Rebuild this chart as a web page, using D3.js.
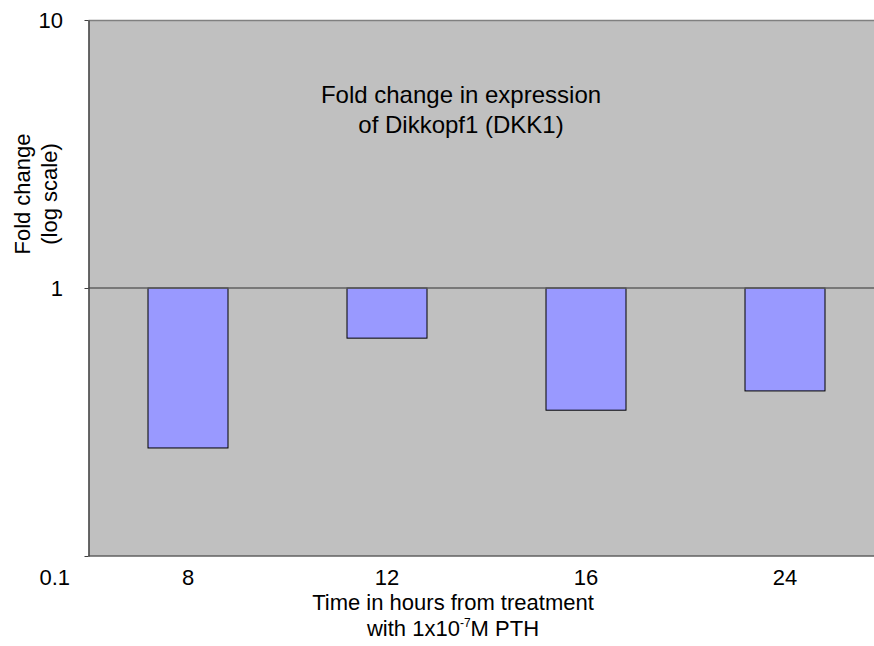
<!DOCTYPE html>
<html>
<head>
<meta charset="utf-8">
<script src="https://cdn.jsdelivr.net/npm/d3@7"></script>
<style>
  html, body { margin: 0; padding: 0; background: #ffffff; }
  svg { display: block; font-family: Arial, "Liberation Sans", sans-serif; }
</style>
</head>
<body>
<svg id="chart" width="874" height="646"></svg>
<script>
// Time points (hours after PTH treatment)
const categories = ["8", "12", "16", "24"];
// DKK1 fold change relative to control
const foldChange = [0.253, 0.65, 0.35, 0.413];
// Log-axis ticks
const yTicks = [0.1, 1, 10];
const yTickLabels = ["0.1", "1", "10"];
const titleLines = ["Fold change in expression", "of Dikkopf1 (DKK1)"];
const yTitleLines = ["Fold change", "(log scale)"];

const svg = d3.select("#chart");
const plotLeft = 88.5, plotRight = 884.5, plotTop = 20, plotBottom = 556;

const x = d3.scaleBand().domain(categories).range([plotLeft, plotRight]);
const y = d3.scaleLog().domain([0.1, 10]).range([plotBottom, plotTop]);
const barW = x.bandwidth() * 0.402;

// plot area
svg.append("rect")
  .attr("x", plotLeft).attr("y", plotTop)
  .attr("width", plotRight - plotLeft).attr("height", plotBottom - plotTop)
  .attr("fill", "#c0c0c0");

// top border
svg.append("line")
  .attr("x1", plotLeft).attr("x2", plotRight)
  .attr("y1", plotTop + 0.5).attr("y2", plotTop + 0.5)
  .attr("stroke", "#808080").attr("stroke-width", 1.5);

// bars hang from the value-1 baseline
svg.append("g").selectAll("rect")
  .data(categories)
  .join("rect")
  .attr("x", d => x(d) + (x.bandwidth() - barW) / 2)
  .attr("y", y(1))
  .attr("width", barW)
  .attr("height", (d, i) => y(foldChange[i]) - y(1))
  .attr("fill", "#9999ff")
  .attr("stroke", "#000000")
  .attr("stroke-width", 1);

// category axis crossing at 1
svg.append("line")
  .attr("x1", plotLeft).attr("x2", plotRight)
  .attr("y1", y(1)).attr("y2", y(1))
  .attr("stroke", "#606060").attr("stroke-width", 1.5);

// bottom edge
svg.append("line")
  .attr("x1", plotLeft).attr("x2", plotRight)
  .attr("y1", plotBottom).attr("y2", plotBottom)
  .attr("stroke", "#606060").attr("stroke-width", 1.5);

// value axis
const yAxis = d3.axisLeft(y)
  .tickValues(yTicks)
  .tickFormat(d => "")
  .tickSizeInner(4).tickSizeOuter(0);
const gy = svg.append("g").attr("transform", `translate(${plotLeft},0)`).call(yAxis);
gy.select(".domain").attr("stroke", "#404040").attr("stroke-width", 1.5);
gy.selectAll(".tick line").attr("stroke", "#404040");

// value labels
svg.append("g").selectAll("text")
  .data(yTicks)
  .join("text")
  .attr("x", (d, i) => i === 0 ? 70 : 63)
  .attr("y", (d, i) => i === 0 ? 577 : y(d))
  .attr("dy", "0.35em")
  .attr("text-anchor", "end")
  .attr("font-size", 22)
  .attr("fill", "#000")
  .text((d, i) => yTickLabels[i]);

// category labels
svg.append("g").selectAll("text")
  .data(categories)
  .join("text")
  .attr("x", d => x(d) + x.bandwidth() / 2)
  .attr("y", 577)
  .attr("dy", "0.35em")
  .attr("text-anchor", "middle")
  .attr("font-size", 22)
  .attr("fill", "#000")
  .text(d => d);

// x-axis title
const xt = svg.append("text")
  .attr("text-anchor", "middle")
  .attr("font-size", 22)
  .attr("fill", "#000");
xt.append("tspan").attr("x", 453).attr("y", 610).text("Time in hours from treatment");
const l2 = xt.append("tspan").attr("x", 453).attr("y", 636);
l2.append("tspan").text("with 1x10");
l2.append("tspan").attr("font-size", 12).attr("dy", -9).text("-7");
l2.append("tspan").attr("dy", 9).text("M PTH");

// y-axis title
svg.append("g")
  .attr("transform", "translate(0,194) rotate(-90)")
  .selectAll("text")
  .data(yTitleLines)
  .join("text")
  .attr("x", 0)
  .attr("y", (d, i) => 30 + i * 27)
  .attr("text-anchor", "middle")
  .attr("font-size", 22)
  .attr("fill", "#000")
  .text(d => d);

// chart title
svg.append("g").selectAll("text")
  .data(titleLines)
  .join("text")
  .attr("x", 461)
  .attr("y", (d, i) => 103 + i * 30)
  .attr("text-anchor", "middle")
  .attr("font-size", 24)
  .attr("fill", "#000")
  .text(d => d);
</script>
</body>
</html>
